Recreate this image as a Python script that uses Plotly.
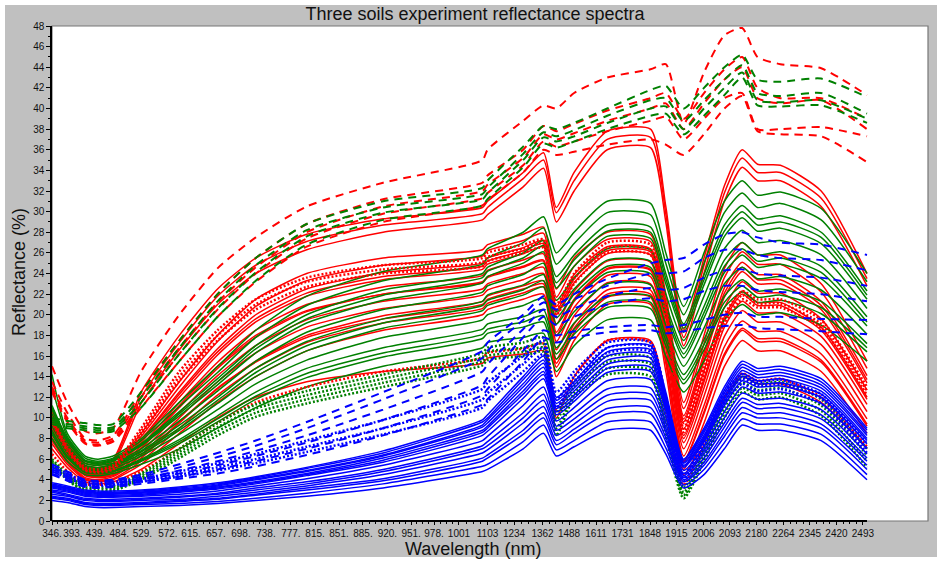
import plotly.graph_objects as go

# ---------------- data ----------------
# x positions are sample indices on the instrument's index axis
tick_labels = ["346.", "393.", "439.", "484.", "529.", "572.", "615.", "657.", "698.", "738.",
               "777.", "815.", "851.", "885.", "920.", "951.", "978.", "1001", "1103", "1234",
               "1362", "1488", "1611", "1731", "1848", "1915", "2006", "2093", "2180", "2264",
               "2345", "2420", "2493"]
# where each label sits on the same index axis (labels are packed, not evenly spaced)
tick_pos = [0.0, 0.82, 1.71, 2.64, 3.55, 4.55, 5.46, 6.44, 7.42, 8.40, 9.38, 10.33, 11.27,
            12.21, 13.17, 14.10, 15.00, 15.98, 17.10, 18.14, 19.26, 20.30, 21.36, 22.40,
            23.48, 24.52, 25.58, 26.62, 27.66, 28.72, 29.76, 30.80, 31.84]
sample_index = [0, 0.6, 1.3, 1.8, 2.4, 3.5, 5, 6.5, 8, 10, 13, 16.9, 17.1, 18.5, 19.3, 19.8,
                20.5, 21.8, 23.5, 24.1, 24.8, 25.6, 26.4, 27.1, 27.7, 28.6, 30.2, 32]

red_solid = [
    [11.0, 8.0, 5.8, 5.6, 6.0, 12.5, 18.0, 22.5, 25.5, 27.8, 29.3, 30.4, 31.0, 33.8, 35.7, 30.4, 33.8, 37.8, 38.0, 30.5, 18.5, 25.5, 32.5, 36.0, 34.6, 34.5, 32.0, 24.0],
    [10.8, 7.8, 5.6, 5.4, 5.8, 12.0, 17.3, 21.8, 24.8, 27.1, 28.7, 29.8, 30.4, 33.2, 35.0, 29.9, 33.0, 37.0, 37.2, 29.8, 17.8, 24.8, 31.8, 35.2, 33.8, 33.8, 31.3, 23.5],
    [10.6, 7.6, 5.4, 5.2, 5.6, 11.4, 16.6, 21.0, 24.0, 26.3, 28.0, 29.2, 29.7, 32.4, 34.2, 29.0, 32.0, 36.0, 36.2, 29.0, 17.0, 24.0, 31.0, 34.3, 33.0, 33.0, 30.5, 22.8],
    [10.5, 7.5, 5.2, 5.0, 5.3, 8.5, 13.5, 18.0, 21.5, 24.0, 25.5, 26.3, 26.8, 27.8, 28.5, 22.5, 25.5, 28.0, 27.8, 22.0, 11.5, 18.0, 24.5, 27.0, 25.8, 25.8, 23.0, 15.5],
    [10.2, 7.3, 5.1, 4.9, 5.2, 8.2, 13.0, 17.4, 20.8, 23.3, 24.8, 25.7, 26.2, 27.2, 27.9, 21.7, 24.7, 27.3, 27.1, 21.3, 10.9, 17.2, 23.6, 26.1, 24.9, 24.9, 22.2, 14.8],
    [9.9, 7.1, 5.0, 4.8, 5.0, 7.9, 12.5, 16.7, 20.0, 22.5, 24.1, 25.0, 25.5, 26.5, 27.2, 20.8, 23.9, 26.6, 26.4, 20.5, 10.2, 16.3, 22.6, 25.1, 23.9, 23.9, 21.3, 14.1],
    [9.5, 6.9, 4.8, 4.7, 5.0, 7.8, 12.3, 16.4, 19.6, 22.1, 23.7, 24.7, 25.2, 26.2, 26.9, 20.4, 23.5, 26.2, 26.1, 20.1, 9.9, 15.9, 22.1, 24.6, 23.4, 23.4, 20.9, 13.7],
    [9.6, 6.9, 4.8, 4.6, 4.9, 7.6, 12.0, 16.1, 19.3, 21.8, 23.4, 24.4, 24.9, 25.9, 26.6, 20.0, 23.1, 25.9, 25.8, 19.8, 9.6, 15.5, 21.7, 24.2, 23.0, 23.0, 20.5, 13.4],
    [9.3, 6.7, 4.7, 4.5, 4.8, 7.3, 11.5, 15.4, 18.5, 21.0, 22.7, 23.8, 24.3, 25.3, 25.9, 19.1, 22.3, 25.2, 25.1, 19.0, 8.9, 14.6, 20.7, 23.2, 22.1, 22.1, 19.6, 12.7],
    [9.0, 6.5, 4.6, 4.4, 4.7, 7.0, 11.0, 14.8, 17.8, 20.3, 22.0, 23.2, 23.7, 24.7, 25.3, 18.3, 21.5, 24.5, 24.4, 18.3, 8.3, 13.8, 19.8, 22.3, 21.2, 21.2, 18.8, 12.0],
    [9.4, 6.7, 4.7, 4.5, 4.7, 7.1, 11.2, 15.0, 18.0, 20.4, 22.0, 23.1, 23.6, 24.6, 25.2, 18.0, 21.3, 24.4, 24.3, 18.0, 8.0, 13.5, 19.5, 22.0, 20.9, 20.9, 18.5, 11.8],
    [8.7, 6.3, 4.5, 4.3, 4.5, 6.7, 10.5, 14.1, 17.0, 19.5, 21.3, 22.5, 23.0, 24.0, 24.6, 17.4, 20.7, 23.8, 23.7, 17.5, 7.6, 12.9, 18.8, 21.3, 20.2, 20.2, 17.9, 11.3],
    [8.4, 6.1, 4.4, 4.2, 4.4, 6.4, 10.0, 13.5, 16.3, 18.8, 20.6, 21.9, 22.4, 23.4, 24.0, 16.6, 19.9, 23.1, 23.0, 16.8, 7.0, 12.1, 17.9, 20.4, 19.3, 19.3, 17.1, 10.6],
    [8.1, 5.9, 4.2, 4.0, 4.3, 6.1, 9.5, 12.8, 15.5, 18.0, 19.9, 21.3, 21.8, 22.8, 23.3, 15.7, 19.1, 22.4, 22.4, 16.0, 6.3, 11.2, 16.9, 19.4, 18.4, 18.4, 16.2, 9.9],
    [8.8, 6.3, 4.5, 4.3, 4.5, 6.3, 9.6, 12.9, 15.4, 17.8, 19.6, 21.0, 21.5, 22.5, 23.0, 15.3, 18.7, 22.0, 22.0, 15.6, 5.8, 10.6, 16.2, 18.7, 17.7, 17.7, 15.6, 9.4],
    [7.8, 5.7, 4.1, 3.9, 4.1, 5.8, 9.0, 12.2, 14.8, 17.3, 19.2, 20.6, 21.1, 22.1, 22.7, 14.9, 18.3, 21.7, 21.7, 15.3, 5.7, 10.4, 16.0, 18.5, 17.4, 17.4, 15.4, 9.2],
    [7.5, 5.5, 4.0, 3.8, 4.0, 5.5, 8.5, 11.5, 14.0, 16.5, 18.5, 20.0, 20.5, 21.5, 22.0, 14.0, 17.5, 21.0, 21.0, 14.5, 5.0, 9.5, 15.0, 17.5, 16.5, 16.5, 14.5, 8.5],
    [7.0, 5.2, 3.8, 3.6, 3.8, 5.0, 7.5, 10.0, 12.0, 13.5, 14.5, 15.3, 15.8, 16.2, 16.5, 10.0, 14.0, 17.5, 17.5, 12.0, 4.5, 8.0, 12.0, 14.0, 13.3, 13.3, 11.5, 7.0],
]

green_solid = [
    [14.2, 8.5, 6.3, 6.0, 6.3, 8.0, 11.5, 15.0, 18.5, 21.8, 24.2, 25.8, 26.4, 28.0, 29.5, 26.0, 28.0, 31.0, 30.8, 26.0, 20.8, 26.0, 31.0, 33.0, 31.6, 31.9, 30.3, 24.0],
    [13.0, 8.2, 6.1, 5.8, 6.1, 7.8, 11.1, 14.4, 17.8, 20.9, 23.3, 24.9, 25.5, 27.0, 28.4, 24.9, 26.9, 29.9, 29.7, 25.0, 20.0, 25.0, 29.9, 31.8, 30.4, 30.8, 29.2, 23.2],
    [11.2, 8.0, 5.9, 5.7, 6.0, 7.5, 10.6, 13.8, 17.0, 20.0, 22.4, 24.0, 24.6, 26.0, 27.2, 23.7, 25.8, 28.7, 28.5, 24.0, 19.1, 23.9, 28.7, 30.6, 29.3, 29.6, 28.0, 22.3],
    [11.0, 7.8, 5.8, 5.6, 5.9, 7.4, 10.4, 13.5, 16.7, 19.6, 21.9, 23.6, 24.2, 25.5, 26.7, 23.1, 25.3, 28.1, 28.0, 23.5, 18.7, 23.4, 28.1, 30.0, 28.7, 29.0, 27.5, 21.9],
    [10.8, 7.7, 5.8, 5.5, 5.8, 7.3, 10.2, 13.2, 16.3, 19.2, 21.4, 23.1, 23.7, 25.0, 26.1, 22.6, 24.7, 27.6, 27.4, 23.0, 18.3, 22.9, 27.6, 29.4, 28.1, 28.4, 26.9, 21.5],
    [10.4, 7.4, 5.6, 5.4, 5.6, 7.0, 9.7, 12.6, 15.5, 18.3, 20.5, 22.2, 22.8, 23.9, 25.0, 21.4, 23.6, 26.4, 26.3, 22.0, 17.5, 21.8, 26.4, 28.2, 27.0, 27.2, 25.8, 20.6],
    [10.0, 7.2, 5.4, 5.2, 5.5, 6.8, 9.3, 12.0, 14.8, 17.4, 19.6, 21.3, 21.9, 22.9, 23.9, 20.3, 22.5, 25.3, 25.2, 21.0, 16.7, 20.8, 25.3, 27.0, 25.8, 26.1, 24.7, 19.8],
    [9.8, 7.0, 5.3, 5.1, 5.4, 6.7, 9.0, 11.7, 14.4, 17.0, 19.2, 20.9, 21.4, 22.4, 23.3, 19.7, 22.0, 24.7, 24.6, 20.5, 16.2, 20.2, 24.7, 26.4, 25.2, 25.5, 24.1, 19.3],
    [9.6, 6.9, 5.2, 5.0, 5.3, 6.5, 8.8, 11.4, 14.0, 16.5, 18.7, 20.4, 20.9, 21.9, 22.7, 19.1, 21.4, 24.1, 24.0, 20.0, 15.8, 19.7, 24.1, 25.8, 24.6, 24.9, 23.5, 18.9],
    [9.2, 6.6, 5.0, 4.9, 5.1, 6.3, 8.4, 10.8, 13.3, 15.6, 17.8, 19.5, 20.0, 20.9, 21.6, 18.0, 20.3, 23.0, 22.9, 19.0, 15.0, 18.7, 23.0, 24.6, 23.5, 23.7, 22.4, 18.1],
    [8.8, 6.3, 4.9, 4.7, 4.9, 6.0, 7.9, 10.2, 12.5, 14.8, 16.8, 18.6, 19.1, 19.8, 20.5, 16.8, 19.2, 21.8, 21.8, 18.0, 14.2, 17.6, 21.8, 23.4, 22.3, 22.5, 21.3, 17.2],
    [8.6, 6.2, 4.8, 4.6, 4.8, 5.9, 7.7, 9.9, 12.1, 14.3, 16.3, 18.1, 18.6, 19.3, 19.9, 16.2, 18.6, 21.2, 21.2, 17.5, 13.7, 17.1, 21.2, 22.8, 21.7, 21.9, 20.7, 16.8],
    [8.4, 6.1, 4.7, 4.6, 4.8, 5.8, 7.5, 9.6, 11.8, 13.9, 15.9, 17.7, 18.2, 18.8, 19.3, 15.7, 18.1, 20.7, 20.6, 17.0, 13.3, 16.6, 20.7, 22.2, 21.2, 21.4, 20.1, 16.4],
    [8.0, 5.8, 4.5, 4.4, 4.6, 5.5, 7.0, 9.0, 11.0, 13.0, 15.0, 16.8, 17.3, 17.8, 18.2, 14.5, 17.0, 19.5, 19.5, 16.0, 12.5, 15.5, 19.5, 21.0, 20.0, 20.2, 19.0, 15.5],
]

blue_solid = [
    [3.7, 3.4, 3.0, 2.9, 2.9, 3.0, 3.3, 3.7, 4.3, 5.2, 6.8, 9.8, 10.3, 14.0, 16.0, 12.0, 13.5, 16.8, 17.0, 12.5, 6.0, 9.0, 13.0, 15.5, 14.8, 15.0, 13.8, 9.0],
    [3.6, 3.3, 2.9, 2.8, 2.8, 2.9, 3.2, 3.6, 4.2, 5.1, 6.6, 9.6, 10.0, 13.7, 15.6, 11.7, 13.2, 16.4, 16.6, 12.2, 5.9, 8.8, 12.7, 15.2, 14.5, 14.7, 13.5, 8.8],
    [3.5, 3.2, 2.8, 2.7, 2.7, 2.8, 3.1, 3.5, 4.1, 4.9, 6.4, 9.3, 9.8, 13.3, 15.3, 11.4, 12.9, 16.0, 16.2, 11.9, 5.7, 8.6, 12.4, 14.9, 14.2, 14.4, 13.2, 8.5],
    [3.4, 3.2, 2.8, 2.7, 2.7, 2.8, 3.0, 3.4, 4.0, 4.8, 6.3, 9.1, 9.5, 13.0, 14.9, 11.1, 12.6, 15.6, 15.8, 11.6, 5.6, 8.3, 12.1, 14.6, 13.9, 14.1, 12.9, 8.3],
    [3.4, 3.1, 2.7, 2.6, 2.6, 2.7, 2.9, 3.3, 3.8, 4.6, 6.1, 8.8, 9.2, 12.6, 14.5, 10.9, 12.2, 15.2, 15.4, 11.3, 5.4, 8.1, 11.8, 14.3, 13.6, 13.8, 12.6, 8.0],
    [3.3, 3.0, 2.6, 2.5, 2.5, 2.6, 2.9, 3.2, 3.7, 4.5, 5.9, 8.6, 9.0, 12.3, 14.2, 10.6, 11.9, 14.8, 14.9, 11.0, 5.3, 7.9, 11.5, 14.0, 13.3, 13.4, 12.3, 7.8],
    [3.2, 2.9, 2.5, 2.4, 2.4, 2.5, 2.8, 3.1, 3.6, 4.4, 5.7, 8.3, 8.7, 11.9, 13.8, 10.3, 11.6, 14.4, 14.5, 10.7, 5.2, 7.7, 11.2, 13.6, 13.0, 13.1, 12.0, 7.5],
    [3.0, 2.8, 2.4, 2.3, 2.3, 2.4, 2.6, 2.9, 3.4, 4.1, 5.4, 7.8, 8.2, 11.2, 13.0, 9.7, 11.0, 13.6, 13.7, 10.1, 4.9, 7.2, 10.6, 13.0, 12.4, 12.5, 11.4, 7.0],
    [2.9, 2.6, 2.2, 2.1, 2.1, 2.2, 2.4, 2.7, 3.2, 3.8, 5.0, 7.3, 7.7, 10.5, 12.3, 9.2, 10.4, 12.8, 12.9, 9.5, 4.6, 6.8, 10.0, 12.4, 11.8, 11.9, 10.8, 6.5],
    [2.8, 2.5, 2.1, 2.0, 2.0, 2.1, 2.3, 2.6, 3.0, 3.6, 4.8, 7.0, 7.3, 10.0, 11.7, 8.8, 9.9, 12.2, 12.3, 9.0, 4.4, 6.5, 9.5, 11.9, 11.3, 11.4, 10.3, 6.1],
    [2.6, 2.4, 2.0, 1.9, 1.9, 2.0, 2.1, 2.4, 2.8, 3.4, 4.5, 6.6, 6.9, 9.5, 11.1, 8.3, 9.4, 11.6, 11.7, 8.6, 4.2, 6.1, 9.1, 11.5, 10.9, 11.0, 9.9, 5.8],
    [2.4, 2.2, 1.8, 1.7, 1.7, 1.8, 2.0, 2.2, 2.6, 3.2, 4.1, 6.1, 6.4, 8.8, 10.5, 7.8, 8.9, 10.9, 11.0, 8.1, 4.0, 5.7, 8.6, 11.0, 10.4, 10.5, 9.4, 5.4],
    [2.3, 2.1, 1.7, 1.6, 1.6, 1.7, 1.9, 2.1, 2.5, 3.0, 3.9, 5.8, 6.1, 8.4, 10.0, 7.4, 8.5, 10.4, 10.4, 7.7, 3.8, 5.4, 8.2, 10.5, 10.0, 10.0, 9.0, 5.0],
    [2.2, 2.0, 1.6, 1.5, 1.5, 1.6, 1.7, 1.9, 2.2, 2.7, 3.6, 5.3, 5.5, 7.7, 9.3, 6.9, 7.8, 9.6, 9.6, 7.1, 3.5, 5.0, 7.6, 9.9, 9.4, 9.4, 8.4, 4.5],
    [2.0, 1.8, 1.4, 1.3, 1.3, 1.4, 1.5, 1.7, 2.0, 2.4, 3.2, 4.8, 5.0, 7.0, 8.5, 6.3, 7.2, 8.8, 8.8, 6.5, 3.2, 4.5, 7.0, 9.3, 8.8, 8.8, 7.8, 4.0],
]

red_dotted = [
    [10.0, 7.2, 5.2, 5.0, 5.4, 9.0, 14.5, 18.5, 21.5, 23.6, 24.8, 25.5, 26.0, 26.8, 27.3, 21.0, 24.0, 27.0, 26.8, 21.0, 9.5, 15.0, 20.0, 22.3, 21.5, 21.5, 19.5, 13.0],
    [9.8, 7.0, 5.0, 4.8, 5.2, 8.7, 14.0, 18.0, 21.0, 23.2, 24.4, 25.1, 25.6, 26.4, 26.9, 20.5, 23.5, 26.5, 26.3, 20.5, 9.0, 14.6, 19.6, 21.9, 21.1, 21.1, 19.1, 12.6],
    [9.6, 6.8, 4.9, 4.7, 5.0, 8.4, 13.6, 17.5, 20.5, 22.7, 24.0, 24.7, 25.2, 26.0, 26.5, 20.0, 23.0, 26.0, 25.8, 20.0, 8.6, 14.2, 19.2, 21.5, 20.7, 20.7, 18.7, 12.2],
    [6.5, 4.8, 3.6, 3.5, 3.7, 4.8, 7.0, 9.5, 11.5, 13.0, 14.5, 15.8, 16.3, 16.7, 17.2, 10.8, 14.0, 17.5, 17.3, 10.5, 3.5, 7.5, 12.0, 14.3, 13.6, 13.8, 12.0, 7.2],
]

green_dotted = [
    [6.0, 4.5, 3.3, 3.2, 3.4, 4.6, 7.0, 9.5, 11.3, 12.6, 14.2, 16.3, 16.8, 17.3, 17.8, 10.5, 13.5, 16.0, 15.8, 10.0, 3.2, 7.0, 11.5, 14.0, 13.3, 13.5, 11.8, 7.0],
    [5.8, 4.3, 3.1, 3.0, 3.2, 4.4, 6.7, 9.1, 10.9, 12.2, 13.8, 15.9, 16.4, 16.8, 17.2, 9.8, 13.0, 15.4, 15.2, 9.4, 2.8, 6.6, 11.0, 13.4, 12.7, 12.9, 11.2, 6.4],
    [5.6, 4.1, 2.9, 2.8, 3.0, 4.2, 6.4, 8.7, 10.5, 11.8, 13.4, 15.5, 16.0, 16.4, 16.8, 9.0, 12.4, 14.8, 14.6, 8.8, 2.5, 6.2, 10.5, 12.9, 12.2, 12.4, 10.7, 5.8],
    [5.5, 4.0, 2.8, 2.7, 2.9, 4.0, 6.1, 8.3, 10.1, 11.4, 13.0, 15.1, 15.6, 16.0, 16.4, 8.3, 12.0, 14.2, 14.0, 8.2, 2.2, 5.8, 10.0, 12.5, 11.8, 12.0, 10.2, 5.2],
]

blue_dotted = [
    [5.3, 4.6, 3.8, 3.7, 3.8, 4.1, 4.8, 5.6, 6.5, 7.8, 9.8, 12.8, 13.4, 16.0, 17.5, 12.5, 14.5, 17.3, 17.3, 12.0, 4.5, 8.0, 12.5, 14.2, 13.5, 13.7, 12.3, 7.5],
    [5.0, 4.4, 3.6, 3.5, 3.6, 3.9, 4.5, 5.2, 6.0, 7.2, 9.0, 11.8, 12.4, 15.2, 16.8, 11.8, 14.0, 16.8, 16.9, 11.6, 4.2, 7.6, 12.0, 13.8, 13.1, 13.3, 11.9, 7.0],
    [4.8, 4.2, 3.5, 3.4, 3.5, 3.8, 4.3, 4.9, 5.6, 6.7, 8.4, 11.0, 11.6, 14.5, 16.2, 11.0, 13.5, 16.3, 16.4, 11.0, 3.9, 7.2, 11.5, 13.3, 12.6, 12.8, 11.4, 6.6],
]

red_dashed = [
    [15.0, 11.5, 8.7, 8.5, 9.0, 14.5, 20.0, 24.5, 27.5, 30.5, 32.8, 35.0, 36.0, 38.8, 40.3, 40.0, 41.5, 43.0, 43.8, 44.3, 38.5, 43.5, 47.1, 47.8, 45.0, 44.3, 43.9, 41.3],
    [13.5, 10.5, 8.0, 7.8, 8.3, 12.5, 17.5, 22.0, 25.5, 28.8, 31.2, 32.8, 33.5, 36.0, 38.3, 37.8, 38.5, 39.8, 41.0, 41.5, 39.0, 41.5, 43.8, 45.0, 42.0, 41.0, 41.0, 39.0],
    [13.0, 10.0, 7.8, 7.6, 8.0, 12.0, 16.8, 21.2, 24.6, 28.0, 30.5, 32.0, 32.6, 35.2, 37.5, 37.0, 37.6, 38.8, 40.0, 40.5, 38.0, 40.5, 42.8, 44.0, 41.0, 40.5, 40.8, 38.0],
    [12.7, 9.8, 7.6, 7.4, 7.8, 11.5, 16.2, 20.5, 24.0, 27.4, 29.8, 31.3, 31.8, 34.5, 36.8, 36.3, 36.8, 37.8, 38.8, 39.2, 37.0, 39.0, 41.0, 41.5, 38.0, 38.0, 38.2, 37.3],
    [12.5, 9.6, 7.5, 7.3, 7.7, 11.0, 15.5, 19.8, 23.2, 26.6, 29.0, 30.6, 31.1, 33.8, 36.0, 35.5, 35.8, 36.5, 37.0, 36.5, 35.5, 37.5, 40.0, 41.2, 37.8, 37.5, 37.3, 34.8],
]

green_dashed = [
    [10.0, 9.7, 9.5, 9.3, 9.4, 12.5, 17.5, 22.0, 25.5, 28.8, 31.0, 32.3, 33.0, 36.3, 38.3, 38.0, 38.6, 40.0, 41.8, 42.2, 40.0, 42.0, 44.0, 45.2, 42.8, 42.6, 42.9, 41.1],
    [9.8, 9.4, 9.2, 9.0, 9.1, 12.0, 16.8, 21.3, 24.8, 28.2, 30.4, 31.7, 32.3, 35.6, 37.7, 37.3, 37.9, 39.3, 40.8, 41.0, 38.8, 40.8, 42.8, 44.2, 41.5, 41.2, 41.5, 39.5],
    [9.6, 9.2, 9.0, 8.8, 8.9, 11.5, 16.2, 20.6, 24.1, 27.6, 29.9, 31.2, 31.8, 35.0, 37.2, 36.8, 37.3, 38.6, 40.0, 40.2, 38.0, 40.0, 42.0, 43.5, 40.8, 40.6, 40.8, 39.0],
    [9.4, 9.0, 8.8, 8.6, 8.7, 11.0, 15.5, 19.8, 23.3, 26.8, 29.2, 30.6, 31.2, 34.3, 36.6, 36.2, 36.8, 38.0, 39.3, 39.5, 37.5, 39.3, 41.3, 43.0, 40.3, 40.2, 40.3, 38.6],
]

blue_dashed = [
    [5.5, 4.8, 4.0, 3.9, 4.0, 4.5, 5.5, 6.6, 7.8, 9.6, 12.5, 16.5, 17.3, 20.0, 21.8, 21.0, 22.0, 23.5, 25.0, 25.3, 25.5, 26.8, 27.8, 28.0, 27.5, 27.0, 26.8, 25.8],
    [5.2, 4.6, 3.9, 3.8, 3.9, 4.3, 5.2, 6.2, 7.3, 9.0, 11.8, 15.8, 16.5, 19.5, 21.2, 20.5, 21.5, 22.8, 24.0, 24.0, 24.2, 25.5, 26.3, 26.3, 25.8, 25.5, 25.3, 24.3],
    [5.0, 4.4, 3.7, 3.6, 3.7, 4.1, 4.9, 5.8, 6.8, 8.3, 10.8, 14.5, 15.2, 18.6, 20.5, 19.8, 20.6, 21.8, 22.6, 22.4, 22.6, 23.6, 24.3, 24.4, 24.0, 23.8, 23.6, 22.8],
    [4.8, 4.2, 3.6, 3.5, 3.6, 4.0, 4.6, 5.4, 6.3, 7.6, 9.8, 13.2, 13.9, 17.8, 19.8, 19.0, 19.8, 21.0, 21.6, 21.3, 21.5, 22.3, 22.8, 22.8, 22.4, 22.2, 22.0, 21.3],
    [4.6, 4.0, 3.4, 3.3, 3.4, 3.8, 4.3, 5.0, 5.8, 7.0, 9.0, 12.2, 12.8, 16.5, 18.5, 18.0, 18.4, 18.8, 19.0, 18.8, 19.0, 19.5, 20.0, 20.2, 19.8, 19.8, 19.6, 19.5],
    [4.5, 3.9, 3.3, 3.2, 3.3, 3.6, 4.1, 4.6, 5.3, 6.4, 8.3, 11.3, 11.8, 15.5, 17.8, 17.3, 17.8, 18.3, 18.5, 18.2, 18.4, 18.7, 18.9, 19.0, 18.7, 18.6, 18.4, 18.1],
]

RED, GREEN, BLUE = "#ff0000", "#008000", "#0000ff"

# ---------------- figure ----------------
fig = go.Figure()

def add_group(series_list, color, dash, width):
    for ys in series_list:
        fig.add_trace(go.Scatter(x=sample_index, y=ys, mode="lines",
                                 line=dict(color=color, width=width, dash=dash,
                                           shape="spline", smoothing=0.6),
                                 showlegend=False, hoverinfo="skip"))

add_group(red_solid, RED, "solid", 1.5)
add_group(green_solid, GREEN, "solid", 1.5)
add_group(red_dotted, RED, "2px,2px", 2.5)
add_group(green_dotted, GREEN, "2px,2px", 2.5)
add_group(blue_solid, BLUE, "solid", 1.5)
add_group(blue_dotted, BLUE, "2px,2px", 2.5)
add_group(red_dashed, RED, "8px,6px", 2)
add_group(green_dashed, GREEN, "8px,6px", 2)
add_group(blue_dashed, BLUE, "8px,6px", 2)

minor_vals = [tick_pos[i] + (tick_pos[i + 1] - tick_pos[i]) * k / 4
              for i in range(len(tick_pos) - 1) for k in (1, 2, 3)]

W, H = 940, 561
L, R, T, B = 52, 12, 26, 40
pw, ph = W - L - R, H - T - B
unit_px = (867 - L) / 32.0          # pixels per index unit

def px_x(p):
    return (p - L) / pw

def px_y(p):
    return (H - B - p) / ph

fig.update_layout(
    width=W, height=H,
    margin=dict(l=L, r=R, t=T, b=B),
    paper_bgcolor="white", plot_bgcolor="white",
    font=dict(family="Liberation Sans, Arial, sans-serif", color="#111111"),
    title=dict(text="Three soils experiment reflectance spectra",
               x=475 / W, xanchor="center", y=1 - 14 / H, yanchor="middle",
               font=dict(size=18, color="#111111")),
    shapes=[
        dict(type="rect", xref="paper", yref="paper", layer="below",
             x0=px_x(5), x1=px_x(937), y0=px_y(557), y1=px_y(5),
             fillcolor="#c0c0c0", line=dict(width=0)),
        dict(type="rect", xref="paper", yref="paper", layer="below",
             x0=0, x1=1, y0=0, y1=1,
             fillcolor="white", line=dict(color="#777777", width=1.2)),
        dict(type="line", xref="x", yref="paper", layer="above",
             x0=0, x1=sample_index[-1], y0=0, y1=0,
             line=dict(color="black", width=2)),
    ],
    annotations=[
        dict(text="Wavelength (nm)", xref="paper", yref="paper",
             x=px_x(473), y=px_y(549), showarrow=False,
             xanchor="center", yanchor="middle", font=dict(size=18, color="#111111")),
        dict(text="Reflectance (%)", xref="paper", yref="paper",
             x=px_x(19), y=px_y(272), showarrow=False, textangle=-90,
             xanchor="center", yanchor="middle", font=dict(size=18, color="#111111")),
    ],
)

fig.update_xaxes(
    range=[0, (928 - L) / unit_px],
    tickmode="array", tickvals=tick_pos, ticktext=tick_labels, tickangle=0,
    ticks="outside", ticklen=3, tickwidth=1, tickcolor="black",
    tickfont=dict(size=10, color="#111111"),
    showgrid=False, zeroline=False, showline=False,
    minor=dict(tickmode="array", tickvals=minor_vals, ticks="outside",
               ticklen=2, tickwidth=1, tickcolor="black", showgrid=False),
)
fig.update_yaxes(
    range=[0, 48], tickmode="array", tickvals=list(range(0, 49, 2)),
    ticks="outside", ticklen=4, tickwidth=1, tickcolor="black",
    tickfont=dict(size=10, color="#111111"),
    showgrid=False, zeroline=False, showline=True, linecolor="black", linewidth=1.5,
    minor=dict(tickmode="array", tickvals=list(range(1, 48, 2)), ticks="outside",
               ticklen=2, tickwidth=1, tickcolor="black", showgrid=False),
)

fig.write_html("out.html")
